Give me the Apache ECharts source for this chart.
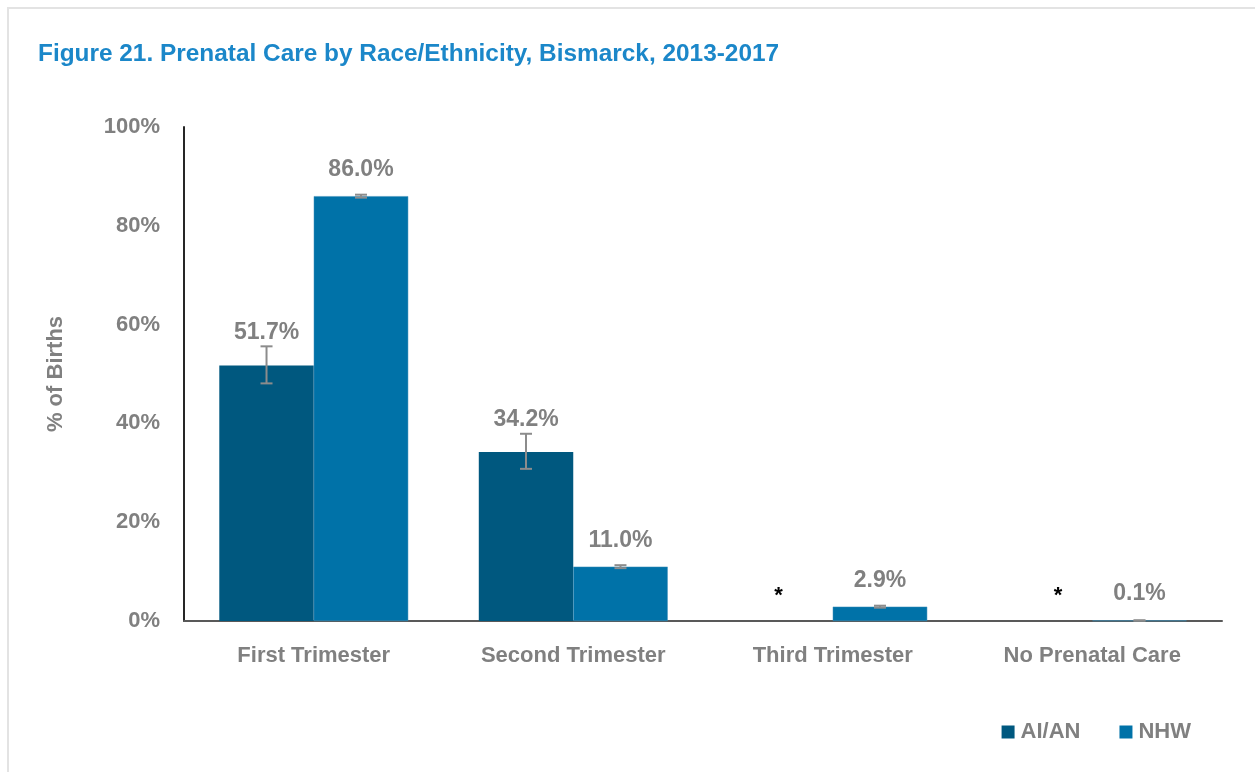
<!DOCTYPE html>
<html>
<head>
<meta charset="utf-8">
<script src="https://cdn.jsdelivr.net/npm/echarts@6/dist/echarts.min.js"></script>
<style>
html,body{margin:0;padding:0;background:#fff;}
#frame{position:absolute;left:7px;top:7px;width:1300px;height:800px;border-top:2px solid #e3e3e3;border-left:2px solid #e3e3e3;}
#chart{position:absolute;left:0;top:0;width:1255px;height:772px;}
</style>
</head>
<body>
<div id="frame"></div>
<div id="chart"></div>
<script>
const titleText = 'Figure 21. Prenatal Care by Race/Ethnicity, Bismarck, 2013-2017';
const categories = ['First Trimester', 'Second Trimester', 'Third Trimester', 'No Prenatal Care'];
const seriesNames = ['AI/AN', 'NHW'];
const aian = [51.7, 34.2, 0, 0];
const aianSuppressed = [false, false, true, true];
const aianLow = [48.1, 30.8, null, null];
const aianHigh = [55.6, 37.9, null, null];
const nhw = [86.0, 11.0, 2.9, 0.1];
const nhwLow = [85.7, 10.7, 2.7, 0.05];
const nhwHigh = [86.3, 11.3, 3.1, 0.15];
const yTicks = [0, 20, 40, 60, 80, 100];

const FONT = '"Liberation Sans Narrow", "Arial Narrow", "Liberation Sans", sans-serif';
const GRAY = '#808080';
const C_AIAN = '#00587f';
const C_NHW = '#0072a8';
const BAR_FRAC = 0.364;

const chart = echarts.init(document.getElementById('chart'), null, {renderer: 'canvas'});

function errSeries(name, low, high, side) {
  const data = categories.map((c, i) => [i, low[i], high[i]]).filter(d => d[1] != null);
  return {
    type: 'custom',
    name: name + ' err',
    z: 5,
    silent: true,
    renderItem: function (params, api) {
      const i = api.value(0);
      const lo = api.coord([i, api.value(1)]);
      const hi = api.coord([i, api.value(2)]);
      const catW = api.size([1, 0])[0];
      const bw = catW * BAR_FRAC;
      const x = lo[0] + side * bw / 2;
      const cap = 6;
      const style = {stroke: '#8c8c8c', lineWidth: 2};
      return {
        type: 'group',
        children: [
          {type: 'line', shape: {x1: x, y1: lo[1], x2: x, y2: hi[1]}, style: style},
          {type: 'line', shape: {x1: x - cap, y1: lo[1], x2: x + cap, y2: lo[1]}, style: style},
          {type: 'line', shape: {x1: x - cap, y1: hi[1], x2: x + cap, y2: hi[1]}, style: style}
        ]
      };
    },
    data: data
  };
}

const aianData = aian.map((v, i) => aianSuppressed[i]
  ? {value: v, label: {formatter: '*', color: '#000', fontSize: 22, distance: 14, offset: [i === 3 ? 13 : -7, 0]}}
  : v);

const option = {
  backgroundColor: 'transparent',
  animation: false,
  title: {
    text: titleText,
    left: 33,
    top: 37,
    textStyle: {color: '#1b87c9', fontFamily: FONT, fontWeight: 'bold', fontSize: 24.4}
  },
  legend: {
    data: seriesNames,
    right: 59,
    top: 716,
    itemWidth: 13,
    itemHeight: 13,
    itemGap: 39,
    icon: 'rect',
    itemStyle: {borderWidth: 0},
    textStyle: {color: GRAY, fontFamily: FONT, fontWeight: 'bold', fontSize: 22, padding: [0, 0, 0, 1]}
  },
  grid: {left: 184, right: 33, top: 127, bottom: 151, containLabel: false},
  xAxis: {
    type: 'category',
    data: categories,
    axisLine: {lineStyle: {color: '#595959', width: 2}},
    axisTick: {show: false},
    axisLabel: {color: GRAY, fontFamily: FONT, fontWeight: 'bold', fontSize: 22, margin: 24}
  },
  yAxis: {
    type: 'value',
    min: 0,
    max: 100,
    interval: 20,
    name: '% of Births',
    nameLocation: 'middle',
    nameGap: 117,
    nameRotate: 90,
    nameTextStyle: {color: GRAY, fontFamily: FONT, fontWeight: 'bold', fontSize: 22},
    axisLine: {show: true, lineStyle: {color: '#262626', width: 2}},
    axisTick: {show: false},
    splitLine: {show: false},
    axisLabel: {
      color: GRAY, fontFamily: FONT, fontWeight: 'bold', fontSize: 22, margin: 24,
      formatter: v => yTicks.includes(v) ? v + '%' : ''
    }
  },
  series: [
    {
      name: seriesNames[0],
      type: 'bar',
      barWidth: (BAR_FRAC * 100) + '%',
      barGap: '0%',
      itemStyle: {color: C_AIAN},
      data: aianData,
      label: {
        show: true,
        position: 'top',
        distance: 21,
        fontFamily: FONT,
        fontWeight: 'bold',
        fontSize: 23,
        color: GRAY,
        formatter: p => p.value.toFixed(1) + '%'
      }
    },
    {
      name: seriesNames[1],
      type: 'bar',
      barWidth: (BAR_FRAC * 100) + '%',
      barGap: '0%',
      itemStyle: {color: C_NHW, borderColor: '#3d8fb8', borderWidth: 0.5},
      data: nhw,
      label: {
        show: true,
        position: 'top',
        distance: 15,
        fontFamily: FONT,
        fontWeight: 'bold',
        fontSize: 23,
        color: GRAY,
        formatter: p => p.value.toFixed(1) + '%'
      }
    },
    errSeries(seriesNames[0], aianLow, aianHigh, -1),
    errSeries(seriesNames[1], nhwLow, nhwHigh, 1)
  ]
};
chart.setOption(option);
</script>
</body>
</html>
